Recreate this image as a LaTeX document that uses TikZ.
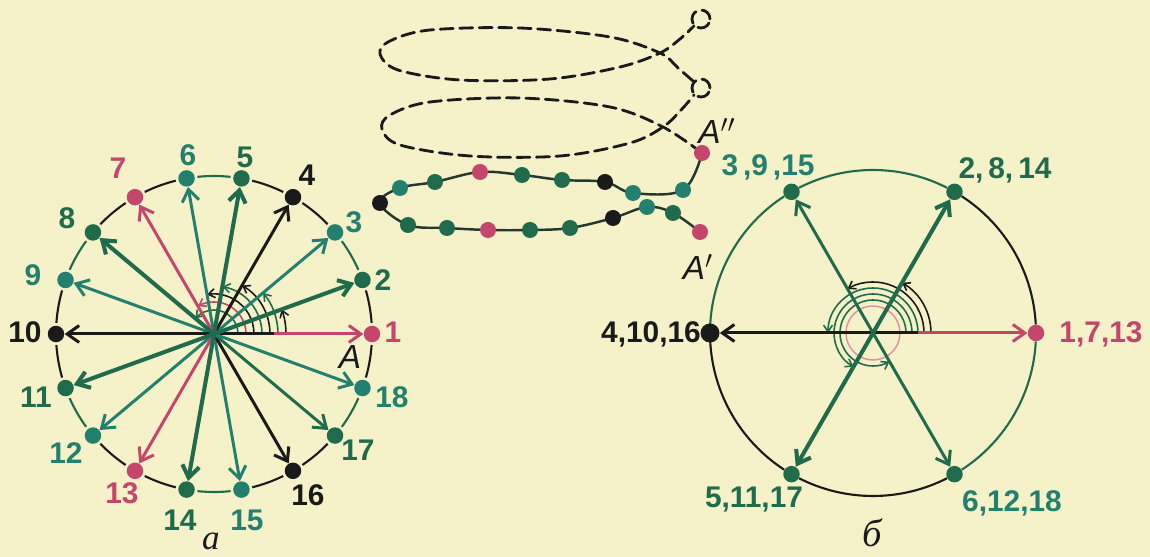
\documentclass[tikz,border=0pt]{standalone}
\usepackage{fontspec}
\setmainfont{Liberation Sans}
\newfontfamily\serifcyr{Liberation Serif}
\usetikzlibrary{arrows.meta,calc}
\definecolor{bg}{HTML}{F5F1C8}
\definecolor{cr}{HTML}{C4466C}
\definecolor{cg}{HTML}{1F6B4C}
\definecolor{ct}{HTML}{23806F}
\definecolor{ck}{HTML}{1A1A1A}
\definecolor{cl}{HTML}{24382E}
\begin{document}
\begin{tikzpicture}[x=0.02cm,y=0.02cm,
  dot/.style={circle,fill=#1,inner sep=0pt,minimum size=3.3mm},
  bead/.style={circle,fill=#1,inner sep=0pt,minimum size=3.2mm},
  lab/.style={inner sep=0pt,font=\fontsize{17}{20}\selectfont\bfseries},
  labb/.style={inner sep=0pt,font=\fontsize{17}{20}\selectfont\bfseries},
  arr/.style={line width=1.7pt,-{Straight Barb[length=2.4mm,width=3.4mm]}},
  arrt/.style={line width=2.3pt,-{Straight Barb[length=2.4mm,width=3.4mm]}},
  circ/.style={line width=1.2pt},
  marc/.style={line width=0.9pt,-{Straight Barb[length=1.3mm,width=1.8mm]}},
  chain/.style={line width=1.4pt,draw=cl},
  helix/.style={line width=1.6pt,dash pattern=on 2.6mm off 1.3mm,draw=ck,line cap=round}
]
\fill[bg] (0,0) rectangle (1150,557);
\useasboundingbox (0,0) rectangle (1150,557);

% ---------------- diagram a ----------------
\coordinate (ca) at (214,223);
\foreach \k/\c in {1/ck,2/cg,3/ck,4/ck,5/cg,6/ck,7/ck,8/cg,9/ck,10/ck,11/cg,12/ck,13/ck,14/cg,15/ck,16/ck,17/cg,18/ck} {
  \pgfmathsetmacro\s{(\k-1)*20+4}
  \pgfmathsetmacro\e{\k*20-4}
  \draw[circ,\c] ($(ca)+(\s:158)$) arc[start angle=\s,end angle=\e,radius=158];
}
\foreach \k/\c in {1/cr,2/cg,3/ct,4/ck,5/cg,6/ct,7/cr,8/cg,9/ct,10/ck,11/cg,12/ct,13/cr,14/cg,15/ct,16/ck,17/cg,18/ct} {
  \node[dot=\c] (a\k) at ($(ca)+({(\k-1)*20}:158)$) {};
}
\foreach \r/\e/\c in {72/20/ck,64/40/cg,56/60/ck,48/80/cg,40/100/ck,32/120/cr,24/140/cg} {
  \draw[marc,\c] ($(ca)+(0:\r)$) arc[start angle=0,end angle=\e,radius=\r];
}
\draw[arr,cr] (ca) -- (a1);
\draw[line width=1.7pt,ck] (ca) -- ++(60,0);
\foreach \k/\c in {3/ct,4/ck,6/ct,7/cr,9/ct,10/ck,12/ct,13/cr,15/ct,16/ck,17/cg,18/ct} {
  \draw[arr,\c] (ca) -- (a\k);
}
\foreach \k in {2,5,8,11,14} {
  \draw[arrt,cg] (ca) -- (a\k);
}
\node[lab,text=cr] (l1) at (393,225) {1};
\node[lab,text=cg] (l2) at (383,277) {2};
\node[lab,text=ct] (l3) at (354,335) {3};
\node[lab,text=ck] (l4) at (307,382) {4};
\node[lab,text=cg] (l5) at (245,400) {5};
\node[lab,text=ct] (l6) at (188,402) {6};
\node[lab,text=cr] (l7) at (118,389) {7};
\node[lab,text=cg] (l8) at (67,339) {8};
\node[lab,text=ct] (l9) at (33,282) {9};
\node[lab,text=ck] (l10) at (25,225) {10};
\node[lab,text=cg] (l11) at (36,160) {11};
\node[lab,text=ct] (l12) at (66,104) {12};
\node[lab,text=cr] (l13) at (122,64) {13};
\node[lab,text=cg] (l14) at (180,37) {14};
\node[lab,text=ct] (l15) at (247,37) {15};
\node[lab,text=ck] (l16) at (308,62) {16};
\node[lab,text=cg] (l17) at (358,107) {17};
\node[lab,text=ct] (l18) at (392,160) {18};
\node[inner sep=0pt,text=ck,font=\fontsize{19}{22}\selectfont\itshape] (lA) at (350,200) {A};
\node[inner sep=0pt,anchor=base,text=ck,font=\fontsize{20}{22}\selectfont\serifcyr\itshape] (la) at (211,7) {а};

% ---------------- helix ----------------
\foreach \n/\x/\y in {1/700/325,2/673/344,3/647/350,4/613/339,5/570/329,6/530/327,7/488/327,8/447/329,9/408/332,10/380/354,11/400/369,12/435/375,13/480/385,14/522/382,15/562/377,16/605/375,17/633/364,18/683/367,19/702/404} {
  \coordinate (h\n) at (\x,\y);
}
\draw[chain] plot[smooth,tension=0.6] coordinates {(h1) (h2) (h3) (h4) (h5) (h6) (h7) (h8) (h9) (h10) (h11) (h12) (h13) (h14) (h15) (h16) (h17) (h18) (h19)};
\coordinate (loop2) at (701,469);
\coordinate (loop1) at (701,538);
\draw[helix] plot[smooth,tension=0.55] coordinates {(h19) (663,430) (610,450) (520,459) (430,455) (390,442) (382,428) (400,412) (470,401) (560,401) (630,414) (663,430) (682,448) (694,462)};
\draw[helix] (loop2) circle[radius=9];
\draw[helix] plot[smooth,tension=0.55] coordinates {(693,476) (678,489) (660,504) (610,520) (520,529) (430,527) (390,516) (380,503) (398,487) (460,477) (550,478) (620,490) (660,504) (680,518) (694,531)};
\draw[helix] (loop1) circle[radius=9];
\foreach \n/\c in {1/cr,2/cg,3/ct,4/ck,5/cg,6/cg,7/cr,8/cg,9/cg,10/ck,11/ct,12/cg,13/cr,14/cg,15/cg,16/ck,17/ct,18/ct,19/cr} {
  \node[bead=\c] (hb\n) at (h\n) {};
}
\node[inner sep=0pt,text=ck,font=\fontsize{19}{22}\selectfont\itshape] (lA2) at (717,426) {A$''$};
\node[inner sep=0pt,text=ck,font=\fontsize{19}{22}\selectfont\itshape] (lA1) at (698,290) {A$'$};

% ---------------- diagram b ----------------
\coordinate (cb) at (873,224);
\foreach \s/\e/\c in {3/57/ck,63/117/cg,123/177/cg,183/237/ck,243/297/ck,303/357/cg} {
  \draw[circ,\c] ($(cb)+(\s:163)$) arc[start angle=\s,end angle=\e,radius=163];
}
\node[dot=cr] (b1) at ($(cb)+(0:163)$) {};
\node[dot=cg] (b2) at ($(cb)+(60:163)$) {};
\node[dot=cg] (b3) at ($(cb)+(120:163)$) {};
\node[dot=ck,minimum size=3.8mm] (b4) at ($(cb)+(180:163)$) {};
\node[dot=cg] (b5) at ($(cb)+(240:163)$) {};
\node[dot=cg] (b6) at ($(cb)+(300:163)$) {};
\draw[line width=0.8pt,cr!60] (cb) circle[radius=27];
\foreach \r/\e/\c in {58/60/ck,51/120/ck,45/180/cg,39/240/cg,33/300/cg} {
  \draw[marc,\c] ($(cb)+(0:\r)$) arc[start angle=0,end angle=\e,radius=\r];
}
\draw[arr,cr] (cb) -- (b1);
\draw[line width=1.7pt,ck] (cb) -- ++(45,0);
\draw[arr,ck] (cb) -- (b4);
\draw[arrt,cg] (cb) -- (b2);
\draw[arr,cg] (cb) -- (b3);
\draw[arrt,cg] (cb) -- (b5);
\draw[arr,cg] (cb) -- (b6);
\node[labb,text=ct] (lb3) at (768,390) {3\,,9\,,15};
\node[labb,text=cg] (lb2) at (1005,387) {2,\,8,\,14};
\node[labb,text=cr] (lb1) at (1101,223) {1,7,13};
\node[labb,text=ck] (lb4) at (651,223) {4,10,16};
\node[labb,text=cg] (lb5) at (754,57) {5,11,17};
\node[labb,text=ct] (lb6) at (1012,54) {6,12,18};
\node[inner sep=0pt,anchor=base,text=ck,font=\fontsize{22}{24}\selectfont\serifcyr\itshape] (lb) at (872,10) {б};
\end{tikzpicture}
\end{document}
